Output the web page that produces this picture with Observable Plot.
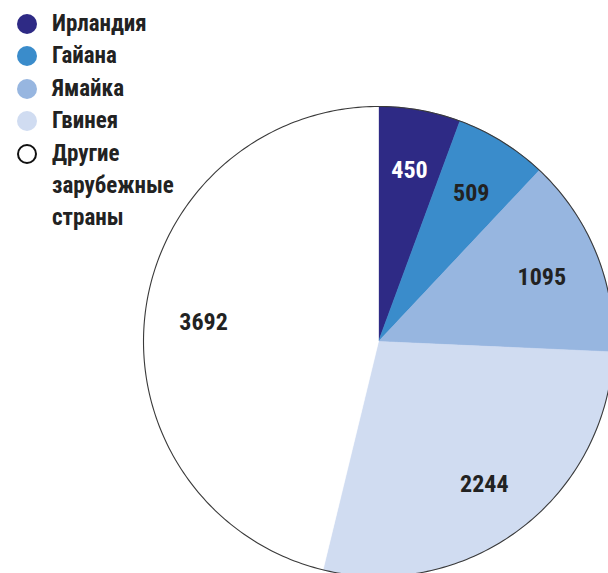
<!DOCTYPE html>
<html>
<head>
<meta charset="utf-8">
<script src="https://cdn.jsdelivr.net/npm/d3@7"></script>
<script src="https://cdn.jsdelivr.net/npm/@observablehq/plot@0.6"></script>
<style>
  html, body { margin: 0; padding: 0; background: #fff; }
  #wrap { position: relative; width: 608px; height: 573px; overflow: hidden; }
  #legend { position: absolute; left: 0; top: 0; font-family: "Roboto Condensed", "Roboto", sans-serif; font-stretch: condensed; font-weight: bold; font-size: 23px; color: #222; }
  .row { position: absolute; left: 17px; display: flex; align-items: flex-start; white-space: nowrap; }
  .sw { width: 20px; height: 20px; border-radius: 50%; box-sizing: border-box; margin-top: 0px; }
  .lab { margin-left: 15px; line-height: 32px; margin-top: -6px; }
</style>
</head>
<body>
<div id="wrap"><div id="chart"></div><div id="legend"></div></div>
<script>
const names = ["Ирландия", "Гайана", "Ямайка", "Гвинея", "Другие зарубежные страны"];
const legendLines = [["Ирландия"], ["Гайана"], ["Ямайка"], ["Гвинея"], ["Другие", "зарубежные", "страны"]];
const values = [450, 509, 1095, 2244, 3692];
const colors = ["#2e2a85", "#3a8ccb", "#97b6e0", "#d0dcf1", "#ffffff"];
const labelColors = ["#ffffff", "#222222", "#222222", "#222222", "#222222"];

// slices from d3.pie (angles clockwise from 12 o'clock)
const pie = d3.pie().sort(null).value(d => d.value)(names.map((n, i) => ({name: n, value: values[i]})));
const polys = [];
for (const s of pie) {
  polys.push({name: s.data.name, x: 0, y: 0});
  const n = Math.max(2, Math.ceil((s.endAngle - s.startAngle) / 0.01));
  for (let k = 0; k <= n; k++) {
    const a = s.startAngle + (s.endAngle - s.startAngle) * k / n;
    polys.push({name: s.data.name, x: Math.sin(a), y: Math.cos(a)});
  }
  polys.push({name: s.data.name, x: 0, y: 0});
}
const outline = d3.range(0, 361).map(d => ({x: Math.sin(d * Math.PI / 180), y: Math.cos(d * Math.PI / 180)}));
const labels = pie.map((s, i) => {
  const a = (s.startAngle + s.endAngle) / 2;
  return {name: s.data.name, value: s.data.value, x: 0.75 * Math.sin(a), y: 0.75 * Math.cos(a), c: labelColors[i]};
});

const chart = Plot.plot({
  width: 608,
  height: 573,
  margin: 0,
  x: {domain: [-1, 1], range: [143, 613], axis: null},
  y: {domain: [-1, 1], range: [576, 106], axis: null},
  color: {domain: names, range: colors},
  marks: [
    Plot.line(polys, {x: "x", y: "y", z: "name", fill: "name", stroke: "name", strokeWidth: 0.6, curve: "linear"}),
    Plot.line(outline, {x: "x", y: "y", stroke: "#3a3a3a", strokeWidth: 1.1}),
    Plot.text(labels, {x: "x", y: "y", text: d => String(d.value), fill: "c", fontSize: 24, fontWeight: "bold",
      fontFamily: "'Roboto Condensed', Roboto, sans-serif", dy: 2})
  ]
});
chart.style.fontStretch = "condensed";
document.getElementById("chart").appendChild(chart);

const leg = document.getElementById("legend");
const tops = [13.5, 46, 78.5, 111, 143.5];
names.forEach((n, i) => {
  const row = document.createElement("div");
  row.className = "row";
  row.style.top = tops[i] + "px";
  const sw = document.createElement("div");
  sw.className = "sw";
  if (colors[i] === "#ffffff") { sw.style.border = "2px solid #111"; sw.style.background = "#fff"; }
  else sw.style.background = colors[i];
  const lab = document.createElement("div");
  lab.className = "lab";
  lab.innerHTML = legendLines[i].join("<br>");
  row.appendChild(sw); row.appendChild(lab);
  leg.appendChild(row);
});
</script>
</body>
</html>
